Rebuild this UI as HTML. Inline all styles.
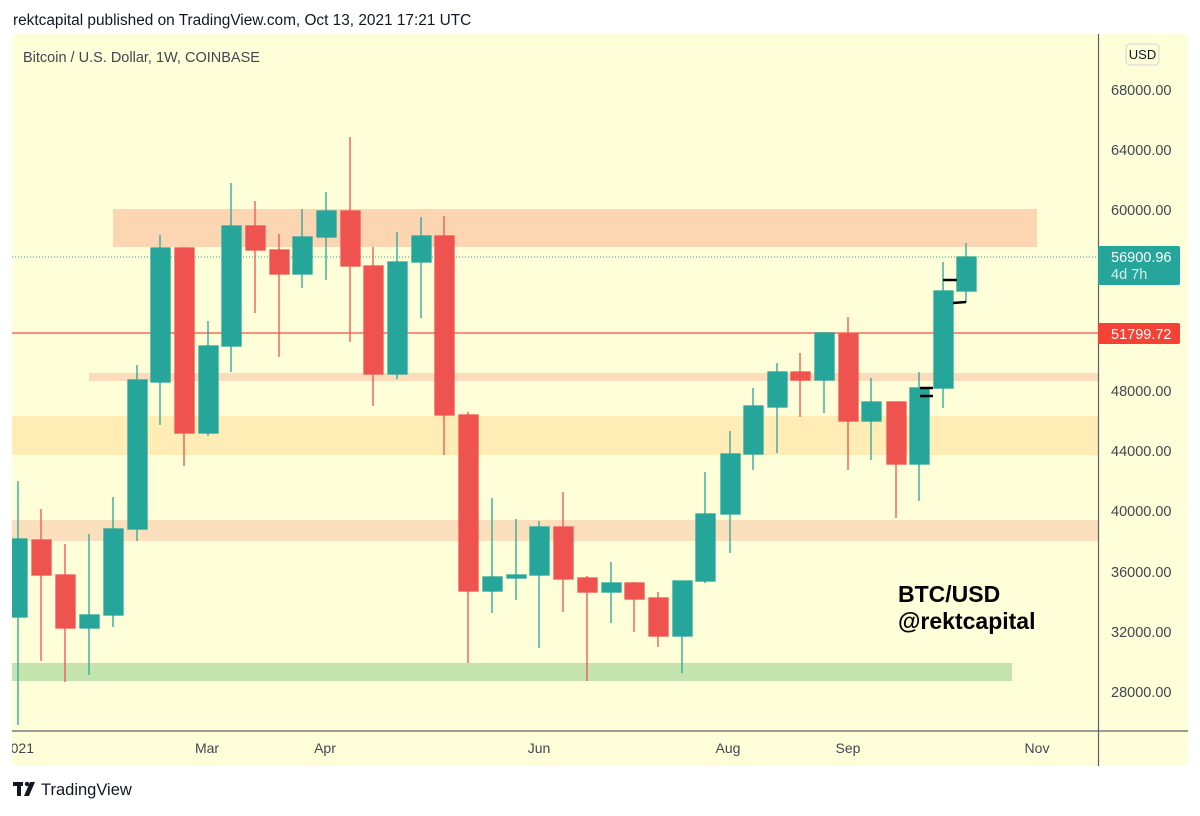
<!DOCTYPE html>
<html><head><meta charset="utf-8"><style>
html,body{margin:0;padding:0;background:#fff;}
body{width:1200px;height:811px;overflow:hidden;font-family:"Liberation Sans",sans-serif;}
</style></head><body>
<svg width="1200" height="811" xmlns="http://www.w3.org/2000/svg" font-family="Liberation Sans, sans-serif">
<defs><clipPath id="pc"><rect x="12" y="34" width="1176" height="732"/></clipPath></defs>
<text x="13" y="25" font-size="15.4" fill="#131722">rektcapital published on TradingView.com, Oct 13, 2021 17:21 UTC</text>
<rect x="12" y="34" width="1176" height="732" fill="#fefed8"/>
<!-- bands -->
<rect x="113" y="209" width="924" height="38" fill="#fcd5b2"/>
<rect x="89" y="373" width="1009" height="8" fill="#fbdcbb"/>
<rect x="12" y="416" width="1086" height="39" fill="#ffedb5"/>
<rect x="12" y="520" width="1086" height="21" fill="#fcdfbd"/>
<rect x="12" y="663" width="1000" height="18" fill="#c5e4ad"/>
<line x1="12" y1="333" x2="1098" y2="333" stroke="#f26d5f" stroke-width="1.5"/>
<line x1="12" y1="257" x2="1098" y2="257" stroke="#26a69a" stroke-width="1" stroke-dasharray="1,2"/>
<g stroke-width="1.3" clip-path="url(#pc)">
<g stroke="#26a69a" fill="#26a69a">
<line x1="18" y1="481" x2="18" y2="725"/><rect x="12" y="539" width="15" height="78"/>
<line x1="89" y1="534" x2="89" y2="675"/><rect x="80" y="615" width="19" height="13"/>
<line x1="113" y1="497" x2="113" y2="627"/><rect x="104" y="529" width="19" height="86"/>
<line x1="137" y1="365" x2="137" y2="541"/><rect x="128" y="380" width="19" height="149"/>
<line x1="160" y1="235" x2="160" y2="425"/><rect x="151" y="248" width="19" height="134"/>
<line x1="208" y1="321" x2="208" y2="436"/><rect x="199" y="346" width="19" height="87"/>
<line x1="231" y1="183" x2="231" y2="372"/><rect x="222" y="226" width="19" height="120"/>
<line x1="302" y1="209" x2="302" y2="288"/><rect x="293" y="237" width="19" height="37"/>
<line x1="326" y1="192" x2="326" y2="280"/><rect x="317" y="211" width="19" height="26"/>
<line x1="397" y1="232" x2="397" y2="379"/><rect x="388" y="262" width="19" height="112"/>
<line x1="421" y1="217" x2="421" y2="318"/><rect x="412" y="236" width="19" height="26"/>
<line x1="492" y1="498" x2="492" y2="613"/><rect x="483" y="577" width="19" height="14"/>
<line x1="516" y1="519" x2="516" y2="600"/><rect x="507" y="575" width="19" height="3"/>
<line x1="539" y1="521" x2="539" y2="648"/><rect x="530" y="527" width="19" height="48"/>
<line x1="611" y1="562" x2="611" y2="623"/><rect x="602" y="583" width="19" height="9"/>
<line x1="682" y1="581" x2="682" y2="673"/><rect x="673" y="581" width="19" height="55"/>
<line x1="705" y1="472" x2="705" y2="583"/><rect x="696" y="514" width="19" height="67"/>
<line x1="730" y1="431" x2="730" y2="553"/><rect x="721" y="454" width="19" height="60"/>
<line x1="753" y1="388" x2="753" y2="470"/><rect x="744" y="406" width="19" height="48"/>
<line x1="777" y1="363" x2="777" y2="453"/><rect x="768" y="372" width="19" height="35"/>
<line x1="824" y1="332" x2="824" y2="413"/><rect x="815" y="333" width="19" height="47"/>
<line x1="871" y1="378" x2="871" y2="460"/><rect x="862" y="402" width="19" height="19"/>
<line x1="919" y1="372" x2="919" y2="501"/><rect x="910" y="388" width="19" height="76"/>
<line x1="943" y1="262" x2="943" y2="408"/><rect x="934" y="291" width="19" height="97"/>
<line x1="966" y1="243" x2="966" y2="303"/><rect x="957" y="257" width="19" height="34"/>
</g>
<g stroke="#ef5350" fill="#ef5350">
<line x1="41" y1="509" x2="41" y2="661"/><rect x="32" y="540" width="19" height="35"/>
<line x1="65" y1="544" x2="65" y2="682"/><rect x="56" y="575" width="19" height="53"/>
<line x1="184" y1="247" x2="184" y2="466"/><rect x="175" y="248" width="19" height="185"/>
<line x1="255" y1="201" x2="255" y2="313"/><rect x="246" y="226" width="19" height="24"/>
<line x1="279" y1="234" x2="279" y2="357"/><rect x="270" y="250" width="19" height="24"/>
<line x1="350" y1="137" x2="350" y2="342"/><rect x="341" y="211" width="19" height="55"/>
<line x1="373" y1="247" x2="373" y2="406"/><rect x="364" y="266" width="19" height="108"/>
<line x1="444" y1="216" x2="444" y2="455"/><rect x="435" y="236" width="19" height="179"/>
<line x1="468" y1="412" x2="468" y2="663"/><rect x="459" y="415" width="19" height="176"/>
<line x1="563" y1="492" x2="563" y2="612"/><rect x="554" y="527" width="19" height="52"/>
<line x1="587" y1="576" x2="587" y2="681"/><rect x="578" y="578" width="19" height="14"/>
<line x1="634" y1="582" x2="634" y2="632"/><rect x="625" y="583" width="19" height="16"/>
<line x1="658" y1="592" x2="658" y2="647"/><rect x="649" y="598" width="19" height="38"/>
<line x1="800" y1="353" x2="800" y2="417"/><rect x="791" y="372" width="19" height="8"/>
<line x1="848" y1="317" x2="848" y2="470"/><rect x="839" y="334" width="19" height="87"/>
<line x1="896" y1="401" x2="896" y2="518"/><rect x="887" y="402" width="19" height="62"/>
</g>
</g>
<g stroke="#000" stroke-width="2.5">
<line x1="943" y1="280" x2="957" y2="280"/><line x1="953" y1="303" x2="966" y2="302"/>
<line x1="920" y1="388" x2="933" y2="388"/><line x1="920" y1="396" x2="933" y2="396"/>
</g>
<text x="898" y="602" font-size="23" font-weight="bold" fill="#000">BTC/USD</text>
<text x="898" y="629" font-size="23" font-weight="bold" fill="#000">@rektcapital</text>
<text x="23" y="62" font-size="14.5" fill="#434651">Bitcoin / U.S. Dollar, 1W, COINBASE</text>
<!-- axes -->
<line x1="1098.5" y1="34" x2="1098.5" y2="766" stroke="#5d606b" stroke-width="1.2"/>
<line x1="12" y1="731" x2="1188" y2="731" stroke="#5d606b" stroke-width="1.2"/>
<rect x="1126" y="44" width="33" height="21" rx="4" fill="none" stroke="#d1d4dc"/>
<text x="1142.5" y="59" font-size="13" fill="#131722" text-anchor="middle">USD</text>
<g font-size="14.5" fill="#434651">
<text x="1111" y="95">68000.00</text>
<text x="1111" y="155">64000.00</text>
<text x="1111" y="215">60000.00</text>
<text x="1111" y="396">48000.00</text>
<text x="1111" y="456">44000.00</text>
<text x="1111" y="516">40000.00</text>
<text x="1111" y="577">36000.00</text>
<text x="1111" y="637">32000.00</text>
<text x="1111" y="697">28000.00</text>
</g>
<rect x="1098" y="246" width="82" height="39" rx="2" fill="#26a69a"/>
<text x="1111" y="262" font-size="14.5" fill="#fff">56900.96</text>
<text x="1111" y="279" font-size="14.5" fill="#d8f0ed">4d 7h</text>
<rect x="1098" y="323" width="82" height="21" rx="2" fill="#f44336"/>
<text x="1111" y="339" font-size="14.5" fill="#fff">51799.72</text>
<g font-size="14" fill="#434651" text-anchor="middle" clip-path="url(#pc)">
<text x="34" y="753" text-anchor="end">2021</text>
<text x="207" y="753">Mar</text>
<text x="325" y="753">Apr</text>
<text x="539" y="753">Jun</text>
<text x="728" y="753">Aug</text>
<text x="848" y="753">Sep</text>
<text x="1037" y="753">Nov</text>
</g>
<!-- logo -->
<g fill="#131722">
<rect x="13" y="782" width="10" height="4"/><rect x="17" y="782" width="4" height="14"/>
<circle cx="27" cy="784" r="2.2"/><polygon points="30,782 35,782 29,796 24,796"/>
</g>
<text x="41" y="795" font-size="16.5" fill="#131722">TradingView</text>
</svg>
</body></html>
